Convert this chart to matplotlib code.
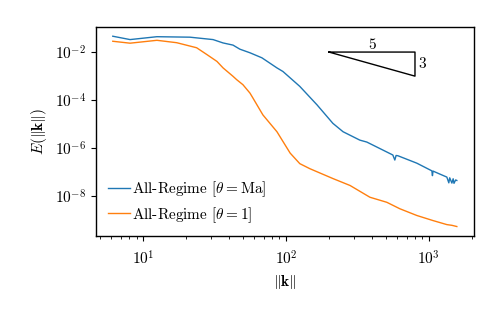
import numpy as np
import matplotlib
matplotlib.use("Agg")
import matplotlib.pyplot as plt
from matplotlib.ticker import NullLocator

plt.rcParams['font.family'] = 'serif'
plt.rcParams['font.serif'] = ['cmr10', 'DejaVu Serif']
plt.rcParams['mathtext.fontset'] = 'cm'
plt.rcParams['axes.formatter.use_mathtext'] = True
plt.rcParams['font.size'] = 11

# Blue: All-Regime [theta = Ma]
k_blue = [6.14, 8.11, 12.5, 21.3, 30.9, 36.3, 42.6, 47.6, 56.0, 67.9, 86.5, 95.3, 125, 165, 213, 251, 329, 368, 560, 578, 590, 607, 824, 1050, 1060, 1070, 1200, 1337, 1380, 1400, 1450, 1480, 1500, 1540, 1570]
log_blue = [-1.34, -1.48, -1.36, -1.38, -1.48, -1.62, -1.71, -1.88, -2.03, -2.24, -2.66, -2.81, -3.43, -4.20, -4.97, -5.32, -5.67, -5.75, -6.29, -6.50, -6.31, -6.32, -6.63, -6.95, -7.15, -6.96, -7.09, -7.21, -7.45, -7.24, -7.46, -7.28, -7.47, -7.33, -7.35]

# Orange: All-Regime [theta = 1]
k_orange = [6.14, 8.11, 12.5, 17.2, 23.7, 27.9, 32.9, 36.3, 42.6, 45.2, 50.0, 56.0, 58.8, 69.0, 86.5, 107, 125, 147, 213, 281, 387, 508, 627, 824, 1067, 1337, 1450, 1570]
log_orange = [-1.55, -1.63, -1.51, -1.61, -1.82, -2.10, -2.39, -2.66, -3.01, -3.15, -3.36, -3.71, -3.92, -4.62, -5.32, -6.21, -6.65, -6.86, -7.27, -7.56, -8.05, -8.26, -8.53, -8.81, -9.02, -9.19, -9.22, -9.27]

labels = [r'All-Regime [$\theta = \mathrm{Ma}$]', r'All-Regime [$\theta = 1$]']

fig = plt.figure(figsize=(5.03, 3.11), dpi=100)
ax = fig.add_axes([0.191, 0.241, 0.751, 0.672])

ax.plot(k_blue, 10 ** np.array(log_blue), color='#1f77b4', lw=1.0, label=labels[0])
ax.plot(k_orange, 10 ** np.array(log_orange), color='#ff7f0e', lw=1.0, label=labels[1])

# -5/3 slope triangle
tx = np.array([200, 800, 800, 200])
ty = np.array([1e-2, 1e-2, 1e-2 * 4 ** (-5 / 3), 1e-2])
ax.plot(tx, ty, color='black', lw=1.0)
ax.text(np.sqrt(200 * 800), 1.0e-2, '5', ha='center', va='bottom', fontsize=11)
ax.text(850, 1e-2 * 4 ** (-5 / 6), '3', ha='left', va='center', fontsize=11)

ax.set_xscale('log')
ax.set_yscale('log')
ax.set_xlim(4.69, 2065)
ax.set_ylim(10 ** -9.667, 10 ** -0.958)
ax.set_yticks([1e-8, 1e-6, 1e-4, 1e-2])
ax.yaxis.set_minor_locator(NullLocator())
ax.tick_params(axis='x', which='major', pad=6)
ax.set_xlabel(r'$\|\mathbf{k}\|$', labelpad=4)
ax.set_ylabel(r'$E(\|\mathbf{k}\|)$')
ax.legend(loc='lower left', frameon=False, handlelength=1.5, handletextpad=0.1,
          labelspacing=0.4, borderaxespad=0.35)
for s in ax.spines.values():
    s.set_linewidth(1.0)

fig.savefig('out.png', dpi=100)
